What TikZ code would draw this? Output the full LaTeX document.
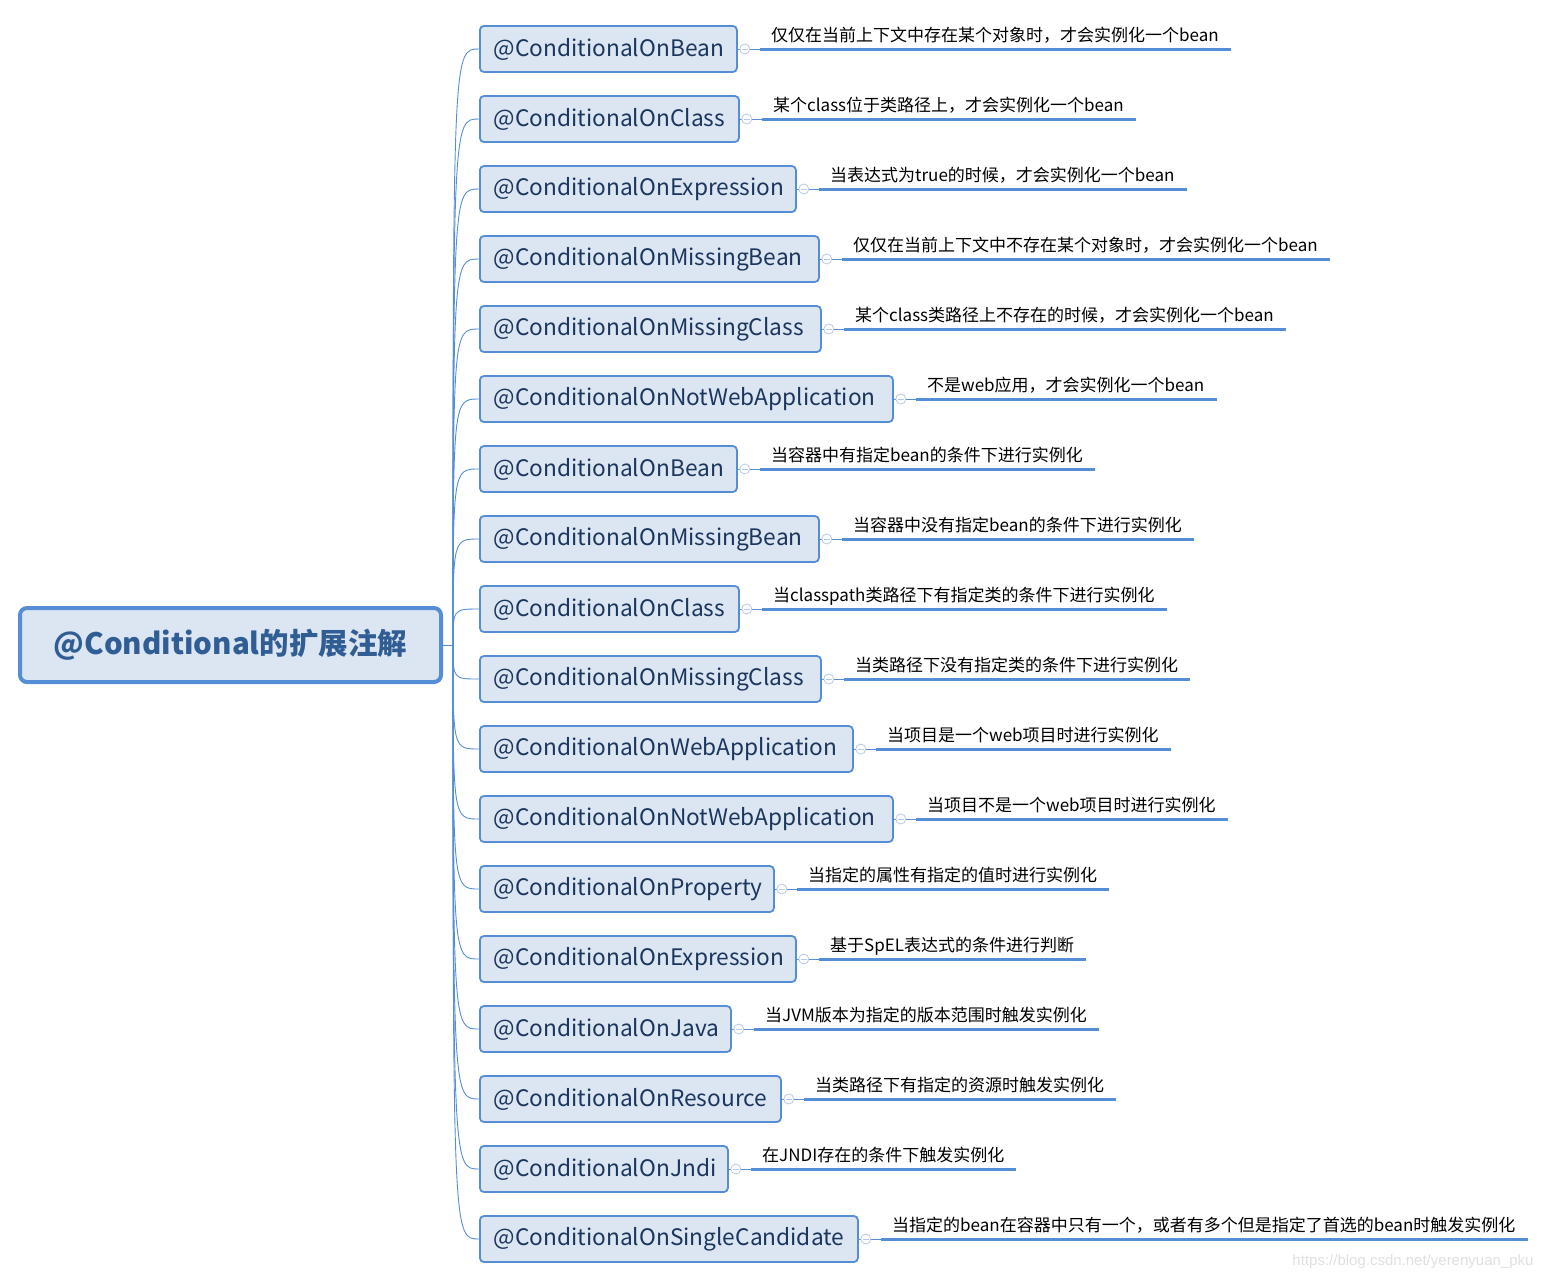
\documentclass[tikz,border=0pt]{standalone}
\usepackage{fontspec}
\setmainfont{Noto Sans CJK SC}
\newfontfamily\wmfont{Liberation Sans}
\usetikzlibrary{calc}
\definecolor{mapblue}{HTML}{558ED5}
\definecolor{mapfill}{HTML}{DCE6F2}
\definecolor{mapnavy}{HTML}{1B365D}
\definecolor{rootblue}{HTML}{2F5D94}
\definecolor{foldgray}{HTML}{B8C9E4}

\begin{document}
\begin{tikzpicture}[x=1pt,y=-1pt,
  rootbox/.style={draw=mapblue,line width=4pt,fill=mapfill,rounded corners=7pt,
    minimum width=421pt,minimum height=74pt,inner sep=0pt,
    font=\fontsize{29.5}{29.5}\selectfont\bfseries,text=rootblue},
  childbox/.style={draw=mapblue,line width=1.8pt,fill=mapfill,rounded corners=4pt,
    minimum height=46pt,inner xsep=14pt,inner ysep=0pt,align=left,
    font=\fontsize{22.7}{22.7}\selectfont,text=mapnavy,anchor=west},
  desc/.style={font=\fontsize{17}{17}\selectfont,inner sep=0pt,anchor=base west},
  branch/.style={mapblue,line width=0.9pt},
  uline/.style={mapblue,line width=3pt},
  fold/.style={circle,draw=foldgray,fill=white,line width=0.8pt,minimum size=10pt,inner sep=0pt}]
  \useasboundingbox (0,0) rectangle (1546,1280);

  \node[rootbox] (root) at (230.5,645) {@Conditional的扩展注解};
  \coordinate (hub) at (453,645);
  \draw[branch] (root.east) -- (hub);

  \foreach \w/\name/\txt [count=\i] in {
    259/@ConditionalOnBean/{仅仅在当前上下文中存在某个对象时，才会实例化一个bean},
    261/@ConditionalOnClass/{某个class位于类路径上，才会实例化一个bean},
    318/@ConditionalOnExpression/{当表达式为true的时候，才会实例化一个bean},
    341/@ConditionalOnMissingBean/{仅仅在当前上下文中不存在某个对象时，才会实例化一个bean},
    343/@ConditionalOnMissingClass/{某个class类路径上不存在的时候，才会实例化一个bean},
    415/@ConditionalOnNotWebApplication/{不是web应用，才会实例化一个bean},
    259/@ConditionalOnBean/{当容器中有指定bean的条件下进行实例化},
    341/@ConditionalOnMissingBean/{当容器中没有指定bean的条件下进行实例化},
    261/@ConditionalOnClass/{当classpath类路径下有指定类的条件下进行实例化},
    343/@ConditionalOnMissingClass/{当类路径下没有指定类的条件下进行实例化},
    375/@ConditionalOnWebApplication/{当项目是一个web项目时进行实例化},
    415/@ConditionalOnNotWebApplication/{当项目不是一个web项目时进行实例化},
    296/@ConditionalOnProperty/{当指定的属性有指定的值时进行实例化},
    318/@ConditionalOnExpression/{基于SpEL表达式的条件进行判断},
    253/@ConditionalOnJava/{当JVM版本为指定的版本范围时触发实例化},
    303/@ConditionalOnResource/{当类路径下有指定的资源时触发实例化},
    250/@ConditionalOnJndi/{在JNDI存在的条件下触发实例化},
    380/@ConditionalOnSingleCandidate/{当指定的bean在容器中只有一个，或者有多个但是指定了首选的bean时触发实例化}} {
    \pgfmathsetmacro\cy{49+70*(\i-1)}
    \pgfmathsetmacro\ux{478+\w+23}
    \pgfmathsetmacro\bw{\w-2}
    \pgfmathsetmacro\tw{\w-30}
    \node[childbox,minimum width=\bw pt,text width=\tw pt] (c\i) at (479,\cy) {\name};
    \draw[branch] (hub) .. controls (453,\cy) .. (c\i.west);
    \draw[branch] (c\i.east) -- (\ux,\cy);
    \node[fold] (f\i) at ($(c\i.east)+(7,0)$) {};
    \draw[foldgray,line width=0.8pt] ($(f\i.center)+(-3,0)$) -- ($(f\i.center)+(3,0)$);
    \node[desc] (d\i) at (\ux+11,\cy-8) {\txt};
    \draw[uline] (\ux,\cy) -- ($(d\i.base east)+(12,8)$);
  }

  \node[font=\wmfont\fontsize{15}{15}\selectfont,text=black!12,anchor=east] (mark) at (1537,1262)
    {https://blog.csdn.net/yerenyuan\_pku};
\end{tikzpicture}
\end{document}
